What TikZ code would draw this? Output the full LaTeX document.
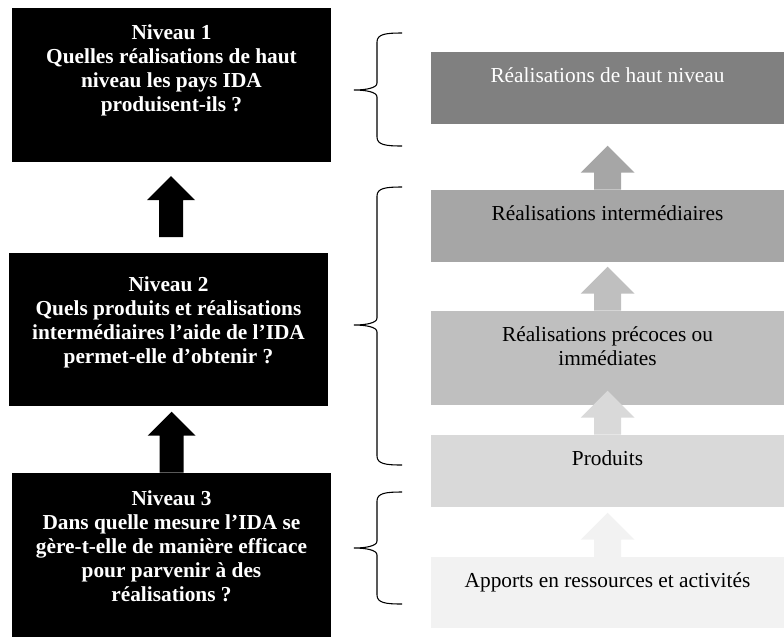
\documentclass[tikz,border=0pt]{standalone}
\usepackage{fontspec}
\setmainfont{Liberation Serif}
\usepackage{tikz}
\usetikzlibrary{calc}

\definecolor{gris1}{HTML}{808080}
\definecolor{gris2}{HTML}{A6A6A6}
\definecolor{gris3}{HTML}{BFBFBF}
\definecolor{gris4}{HTML}{D9D9D9}
\definecolor{gris5}{HTML}{F2F2F2}

\tikzset{
  boitenoire/.style={fill=black, minimum width=239.25pt, inner sep=0pt},
  boitegrise/.style={minimum width=264.75pt, inner sep=0pt},
  textenoir/.style={text=white, font=\bfseries\fontsize{16}{18}\selectfont, align=center, inner sep=0pt, anchor=north},
  textegris/.style={font=\fontsize{16}{18}\selectfont, align=center, inner sep=0pt, anchor=north},
  accolade/.style={line width=0.8pt},
  pics/flechenoire/.style={code={
    \fill[black] (-12,0) -- (-12,37) -- (-24,37) -- (0,61) -- (24,37) -- (12,37) -- (12,0) -- cycle;}},
  pics/flechegrise/.style={code={
    \fill[#1] (-13.5,0) -- (-13.5,17) -- (-27,17) -- (0,44) -- (27,17) -- (13.5,17) -- (13.5,0) -- cycle;}},
}

\newcommand{\accolade}[3]{%
  \draw[accolade] (402,#1) .. controls (386,#1) and (377,#1+1) .. (377,#1+9)
    -- (377,#2-7) .. controls (377,#2-2) and (366,#2) .. (354,#2)
    .. controls (366,#2) and (377,#2+2) .. (377,#2+7)
    -- (377,#3-9) .. controls (377,#3-1) and (386,#3) .. (402,#3);
}

\begin{document}
\begin{tikzpicture}[x=0.75pt,y=0.75pt,yscale=-1]
\useasboundingbox (0,0) rectangle (784,637);

%Niveaux (colonne de gauche)
\node[boitenoire, minimum height=115.5pt] (n1) at (171.5,85) {};
\node[boitenoire, minimum height=114.75pt] (n2) at (168.5,329.5) {};
\node[boitenoire, minimum height=123pt] (n3) at (171.5,555) {};

\node[textenoir] (t1) at ($(n1.north)+(0,17)$) {Niveau 1\\Quelles réalisations de haut\\niveau les pays IDA\\produisent-ils ?};
\node[textenoir] (t2) at ($(n2.north)+(0,24)$) {Niveau 2\\Quels produits et réalisations\\intermédiaires l’aide de l’IDA\\permet-elle d’obtenir ?};
\node[textenoir] (t3) at ($(n3.north)+(0,18)$) {Niveau 3\\Dans quelle mesure l’IDA se\\gère-t-elle de manière efficace\\pour parvenir à des\\réalisations ?};

\pic at ($(n2.north)+(2.5,-15.5)$) {flechenoire};
\pic at (n3.north) {flechenoire};

%Chaine de resultats (colonne de droite)
\node[boitegrise, fill=gris1, minimum height=54pt] (g1) at (607.5,88) {};
\node[boitegrise, fill=gris2, minimum height=54pt] (g2) at (607.5,226) {};
\node[boitegrise, fill=gris3, minimum height=70.5pt] (g3) at (607.5,358) {};
\node[boitegrise, fill=gris4, minimum height=54pt] (g4) at (607.5,471) {};
\node[boitegrise, fill=gris5, minimum height=53.25pt] (g5) at (607.5,592.5) {};

\node[textegris, text=white] (r1) at ($(g1.north)+(0,16)$) {Réalisations de haut niveau};
\node[textegris] (r2) at ($(g2.north)+(0,16)$) {Réalisations intermédiaires};
\node[textegris] (r3) at ($(g3.north)+(0,16)$) {Réalisations précoces ou\\immédiates};
\node[textegris] (r4) at ($(g4.north)+(0,16)$) {Produits};
\node[textegris] (r5) at ($(g5.north)+(0,16)$) {Apports en ressources et activités};

\pic at (g2.north) {flechegrise=gris2};
\pic at (g3.north) {flechegrise=gris3};
\pic at (g4.north) {flechegrise=gris4};
\pic at (g5.north) {flechegrise=gris5};

%Accolades
\accolade{33}{90}{146}
\accolade{187}{325}{465}
\accolade{492}{548}{604}

\end{tikzpicture}
\end{document}
